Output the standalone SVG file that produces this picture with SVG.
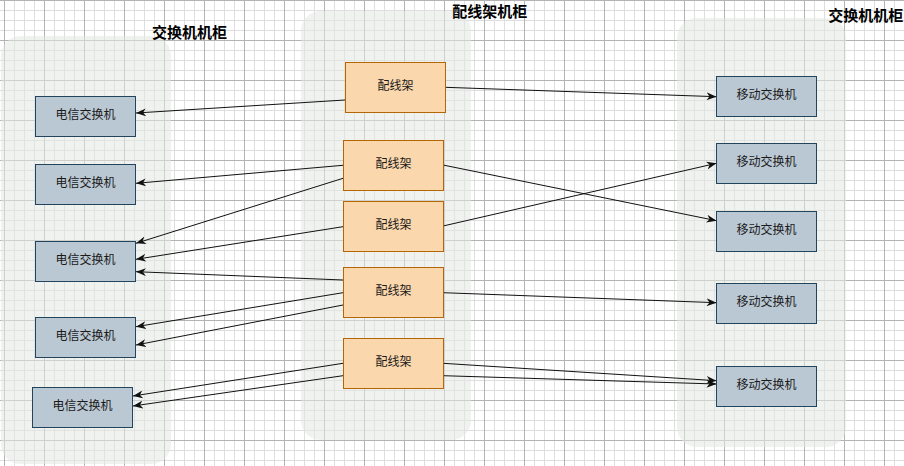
<svg xmlns="http://www.w3.org/2000/svg" width="904" height="466" viewBox="0 0 904 466">
  <style>
    .cab { fill: #e4e8e3; fill-opacity: 0.55; stroke: none; }
    .title { font-family: "Noto Sans CJK SC", "Liberation Sans", sans-serif; font-size: 15px; font-weight: bold; fill: #000; text-anchor: middle; }
    .lbl { font-family: "Noto Sans CJK SC", "Liberation Sans", sans-serif; font-size: 12px; fill: #1a1a1a; text-anchor: middle; }
    .sw { fill: #bac8d3; stroke: #23445d; stroke-width: 1; }
    .pf { fill: #fad7ac; stroke: #b46504; stroke-width: 1; }
    .edge { fill: none; stroke: #111; stroke-width: 1; marker-end: url(#arr); }
  </style>
  <defs>
    <pattern id="grid" patternUnits="userSpaceOnUse" x="4" y="0" width="40" height="40">
      <path d="M10.5 0V40M20.5 0V40M30.5 0V40M0 10.5H40M0 20.5H40M0 30.5H40" stroke="#dedede" stroke-width="1" fill="none"/>
      <path d="M0.5 0V40M0 0.5H40" stroke="#b3b3b3" stroke-width="1" fill="none"/>
    </pattern>
    <marker id="arr" viewBox="0 0 10 8" refX="10" refY="4" markerWidth="10" markerHeight="8" markerUnits="userSpaceOnUse" orient="auto">
      <path d="M0,0 L10,4 L0,8 L3,4 Z" fill="#111"/>
    </marker>
  </defs>
  <rect x="0" y="0" width="904" height="466" fill="#ffffff"/>
  <rect x="0" y="0" width="904" height="466" fill="url(#grid)"/>

  <g id="cabinet-left">
    <rect class="cab" x="1" y="36" width="170" height="428" rx="20"/>
    <text class="title" x="189.5" y="37.5">交换机机柜</text>
  </g>
  <g id="cabinet-middle">
    <rect class="cab" x="301" y="11" width="170" height="429" rx="20"/>
    <text class="title" x="489.7" y="16.5">配线架机柜</text>
  </g>
  <g id="cabinet-right">
    <rect class="cab" x="677" y="18" width="169" height="429" rx="20"/>
    <text class="title" x="865.7" y="20.5">交换机机柜</text>
  </g>

  <g id="connectors">
    <path class="edge" d="M345,100 L136,113"/>
    <path class="edge" d="M343,165.3 L136,183.3"/>
    <path class="edge" d="M343,178.3 L136,243.3"/>
    <path class="edge" d="M343,226.7 L136,259.3"/>
    <path class="edge" d="M343,280 L136,271.7"/>
    <path class="edge" d="M343,292.7 L136,326.7"/>
    <path class="edge" d="M343,305 L136,345"/>
    <path class="edge" d="M343,363.3 L133,396"/>
    <path class="edge" d="M343,375.7 L133,406"/>
    <path class="edge" d="M445,87.3 L716.5,96.7"/>
    <path class="edge" d="M443,165 L716.5,220.7"/>
    <path class="edge" d="M443,226 L716.5,163.3"/>
    <path class="edge" d="M443,292.7 L716.5,302.7"/>
    <path class="edge" d="M443,363.3 L716.5,380.7"/>
    <path class="edge" d="M443,375.7 L716.5,384"/>
  </g>

  <g id="tel1"><rect class="sw" x="35.5" y="96.5" width="100" height="40"/><text class="lbl" x="85.5" y="119">电信交换机</text></g>
  <g id="tel2"><rect class="sw" x="35.5" y="164.5" width="100" height="40"/><text class="lbl" x="85.5" y="187">电信交换机</text></g>
  <g id="tel3"><rect class="sw" x="35.5" y="241.5" width="100" height="40"/><text class="lbl" x="85.5" y="264">电信交换机</text></g>
  <g id="tel4"><rect class="sw" x="35.5" y="317.5" width="100" height="40"/><text class="lbl" x="85.5" y="340">电信交换机</text></g>
  <g id="tel5"><rect class="sw" x="32.5" y="387.5" width="100" height="40"/><text class="lbl" x="82.5" y="410">电信交换机</text></g>

  <g id="pf1"><rect class="pf" x="345.5" y="62.5" width="100" height="50"/><text class="lbl" x="395.5" y="89.5">配线架</text></g>
  <g id="pf2"><rect class="pf" x="343.5" y="140.5" width="100" height="50"/><text class="lbl" x="393.5" y="167.5">配线架</text></g>
  <g id="pf3"><rect class="pf" x="343.5" y="201.5" width="100" height="50"/><text class="lbl" x="393.5" y="228.5">配线架</text></g>
  <g id="pf4"><rect class="pf" x="343.5" y="267.5" width="100" height="50"/><text class="lbl" x="393.5" y="294.5">配线架</text></g>
  <g id="pf5"><rect class="pf" x="343.5" y="338.5" width="100" height="50"/><text class="lbl" x="393.5" y="365.5">配线架</text></g>

  <g id="mob1"><rect class="sw" x="716.5" y="76.5" width="100" height="40"/><text class="lbl" x="766.5" y="99">移动交换机</text></g>
  <g id="mob2"><rect class="sw" x="716.5" y="143.5" width="100" height="40"/><text class="lbl" x="766.5" y="166">移动交换机</text></g>
  <g id="mob3"><rect class="sw" x="716.5" y="211.5" width="100" height="40"/><text class="lbl" x="766.5" y="234">移动交换机</text></g>
  <g id="mob4"><rect class="sw" x="716.5" y="283.5" width="100" height="40"/><text class="lbl" x="766.5" y="306">移动交换机</text></g>
  <g id="mob5"><rect class="sw" x="716.5" y="366.5" width="100" height="40"/><text class="lbl" x="766.5" y="389">移动交换机</text></g>
</svg>
